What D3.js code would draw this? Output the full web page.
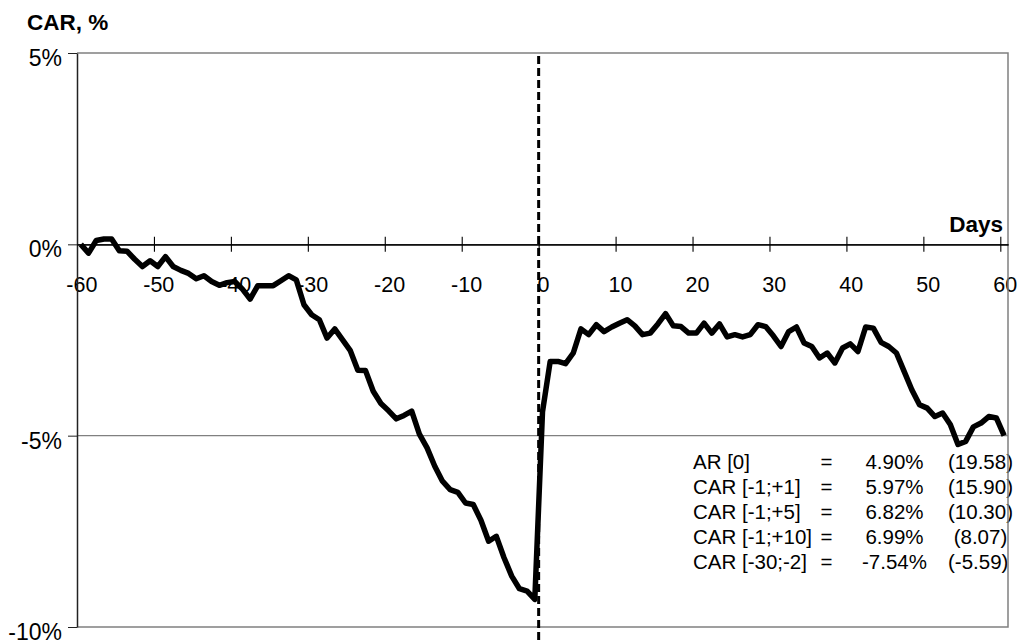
<!DOCTYPE html>
<html>
<head>
<meta charset="utf-8">
<script src="https://cdn.jsdelivr.net/npm/d3@7"></script>
<style>
  body { margin: 0; background: #fff; }
  svg { font-family: Arial, "Liberation Sans", sans-serif; }
</style>
</head>
<body>
<svg id="chart" width="1021" height="641"></svg>
<script>
// cumulative abnormal return, %, for days -60 .. +60
var firstDay = -60;
var car = [
    0.00, -0.23,  0.10,  0.14,  0.14, -0.17, -0.18, -0.39, -0.58, -0.43,
   -0.58, -0.32, -0.58, -0.68, -0.76, -0.90, -0.82, -0.97, -1.07, -1.00,
   -0.97, -1.17, -1.43, -1.08, -1.08, -1.08, -0.95, -0.82, -0.93, -1.58,
   -1.84, -1.97, -2.45, -2.21, -2.49, -2.77, -3.29, -3.30, -3.84, -4.16,
   -4.35, -4.56, -4.47, -4.36, -4.96, -5.32, -5.80, -6.19, -6.41, -6.48,
   -6.76, -6.80, -7.21, -7.76, -7.63, -8.19, -8.67, -9.00, -9.06, -9.28,
   -4.38, -3.06, -3.06, -3.12, -2.84, -2.21, -2.36, -2.10, -2.28, -2.16,
   -2.06, -1.97, -2.13, -2.36, -2.32, -2.08, -1.81, -2.13, -2.15, -2.32,
   -2.32, -2.06, -2.32, -2.08, -2.42, -2.36, -2.42, -2.36, -2.10, -2.15,
   -2.39, -2.67, -2.28, -2.16, -2.58, -2.67, -2.97, -2.84, -3.10, -2.71,
   -2.60, -2.80, -2.16, -2.19, -2.56, -2.67, -2.84, -3.32, -3.80, -4.19,
   -4.28, -4.50, -4.41, -4.71, -5.23, -5.15, -4.77, -4.67, -4.50, -4.54,
   -5.00
];
var days = car.map(function (v, i) { return firstDay + i; });

var yTicks = [5, 0, -5, -10];
var xTickLabels = [-60, -50, -40, -30, -20, -10, 0, 10, 20, 30, 40, 50, 60];
var xTickMarks = [-50, -40, -30, -20, -10, 0, 10, 20, 30, 40, 50, 60];
var eventDay = 0;

var statLabels = ["AR [0]", "CAR [-1;+1]", "CAR [-1;+5]", "CAR [-1;+10]", "CAR [-30;-2]"];
var statValues = ["4.90%", "5.97%", "6.82%", "6.99%", "-7.54%"];
var statTstats = ["(19.58)", "(15.90)", "(10.30)", " (8.07)", "(-5.59)"];

var plotLeft = 77, plotRight = 1008, plotTop = 53, plotBottom = 627;

var svg = d3.select("#chart");

// days are categories: each day sits in the middle of its slot
var x = d3.scaleLinear().domain([firstDay - 0.5, days[days.length - 1] + 0.5]).range([plotLeft, plotRight]);
var y = d3.scaleLinear().domain([-10, 5]).range([plotBottom, plotTop]);

// x tick labels, drawn first so lines go over them
svg.append("g")
    .selectAll("text")
    .data(xTickLabels)
    .enter()
    .append("text")
    .attr("x", function (d) { return x(d) + 1; })
    .attr("y", 292)
    .attr("text-anchor", "middle")
    .attr("font-size", 21.5)
    .attr("fill", "#000")
    .text(function (d) { return d; });

// stats box text
var rowY = function (i) { return 469 + i * 25; };
var stats = svg.append("g").attr("font-size", 20.5).attr("fill", "#000");
statLabels.forEach(function (s, i) {
    stats.append("text").attr("x", 693).attr("y", rowY(i)).text(s);
    stats.append("text").attr("x", 826.5).attr("y", rowY(i)).attr("text-anchor", "middle").text("=");
    stats.append("text").attr("x", 894.5).attr("y", rowY(i)).attr("text-anchor", "middle").text(statValues[i]);
    stats.append("text").attr("x", 948).attr("y", rowY(i)).style("white-space", "pre").text(statTstats[i]);
});

// gridline at -5% and the frame
svg.append("line")
    .attr("x1", plotLeft).attr("x2", plotRight)
    .attr("y1", y(-5)).attr("y2", y(-5))
    .attr("stroke", "#808080").attr("stroke-width", 1.2);
svg.append("path")
    .attr("d", "M" + plotLeft + "," + y(5) + "H" + plotRight + "V" + y(-10) + "H" + plotLeft)
    .attr("fill", "none")
    .attr("stroke", "#808080")
    .attr("stroke-width", 1.5);

// y axis
var yAxis = svg.append("g")
    .attr("transform", "translate(" + plotLeft + ",0)")
    .call(d3.axisLeft(y).tickValues(yTicks).tickSize(9).tickSizeOuter(0)
        .tickFormat(function (d) { return d + "%"; }));
yAxis.select(".domain").attr("stroke", "#222").attr("stroke-width", 1.5);
yAxis.selectAll(".tick line").attr("stroke", "#222");
yAxis.selectAll(".tick text")
    .attr("x", -15)
    .attr("dy", "0.55em")
    .attr("font-size", 23)
    .attr("font-family", "Arial, 'Liberation Sans', sans-serif")
    .attr("fill", "#000");

// x axis on the 0% line, ticks crossing it
var tickPos = xTickMarks.map(function (d) { return d - 0.5; });
[d3.axisBottom(x), d3.axisTop(x)].forEach(function (ax) {
    var g = svg.append("g")
        .attr("transform", "translate(0," + y(0) + ")")
        .call(ax.tickValues(tickPos).tickSize(7.5).tickSizeOuter(0).tickFormat(""));
    g.select(".domain").attr("stroke", "#000").attr("stroke-width", 1.1);
    g.selectAll(".tick line").attr("stroke", "#000").attr("stroke-width", 1.1);
});

// axis titles
svg.append("text")
    .attr("x", 27).attr("y", 30)
    .attr("font-size", 22.5).attr("font-weight", "bold")
    .text("CAR, %");
svg.append("text")
    .attr("x", 1003).attr("y", 232)
    .attr("text-anchor", "end")
    .attr("font-size", 22.5).attr("font-weight", "bold")
    .text("Days");

// the CAR line
var line = d3.line()
    .x(function (d, i) { return x(days[i]); })
    .y(function (d) { return y(d); });
svg.append("path")
    .datum(car)
    .attr("d", line)
    .attr("fill", "none")
    .attr("stroke", "#000")
    .attr("stroke-width", 5.5)
    .attr("stroke-linejoin", "round");

// event day marker
svg.append("line")
    .attr("x1", x(eventDay - 0.5)).attr("x2", x(eventDay - 0.5))
    .attr("y1", 56).attr("y2", 641)
    .attr("stroke", "#000")
    .attr("stroke-width", 3)
    .attr("stroke-dasharray", "8,4");
</script>
</body>
</html>
